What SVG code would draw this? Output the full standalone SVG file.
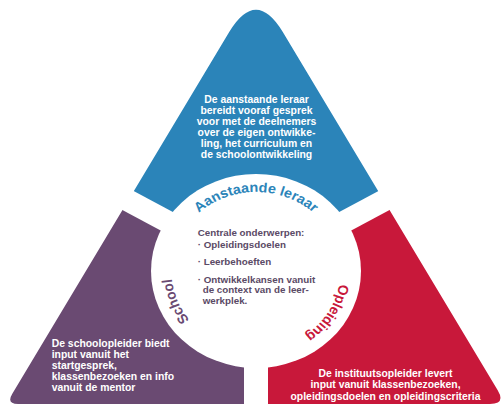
<svg xmlns="http://www.w3.org/2000/svg" width="502" height="407" viewBox="0 0 502 407">
  <style>
    .body { font-family: "Liberation Sans", Arial, sans-serif; font-weight: bold; }
    .wt { fill: #ffffff; font-size: 10.4px; }
    .ct { fill: #5b4a66; font-size: 9.8px; }
    .lbl { font-family: "Liberation Sans", Arial, sans-serif; font-weight: bold; font-size: 13.5px; }
    .gap { stroke: #ffffff; fill: none; }
  </style>
  <defs>
    <path id="tri" d="M 229.2 32.1 Q 256 -12.5 282.8 32.1 L 497.7 390.3 Q 505.9 404 489.9 404 L 18.1 404 Q 6.1 404 12.3 393.7 Z"/>
    <clipPath id="clip-top"><polygon points="256,269 -20,121.3 -20,-20 532,-20 532,121.3"/></clipPath>
    <clipPath id="clip-left"><polygon points="256,269 -20,121.3 -20,420 256,420"/></clipPath>
    <clipPath id="clip-right"><polygon points="256,269 532,121.3 532,420 256,420"/></clipPath>
    <path id="arc-top" d="M -74.24 -27.02 A 79 79 0 0 1 74.24 -27.02"/>
    <path id="arc-right" d="M 62.25 -48.64 A 79 79 0 0 1 -16.43 77.27"/>
    <path id="arc-left" d="M 2.76 78.95 A 79 79 0 0 1 -52.86 -58.71"/>
  </defs>

  <g id="sector-aanstaande-leraar">
    <use href="#tri" fill="#2b84b9" clip-path="url(#clip-top)"/>
  </g>
  <g id="sector-school">
    <use href="#tri" fill="#6a4a72" clip-path="url(#clip-left)"/>
  </g>
  <g id="sector-opleiding">
    <use href="#tri" fill="#c8183a" clip-path="url(#clip-right)"/>
  </g>

  <g id="connectors">
    <line class="gap" x1="256" y1="269" x2="-20" y2="121.3" stroke-width="22"/>
    <line class="gap" x1="256" y1="269" x2="532" y2="121.3" stroke-width="22"/>
    <line class="gap" x1="256" y1="269" x2="256" y2="420" stroke-width="24"/>
  </g>

  <g id="center">
    <ellipse cx="256" cy="271" rx="105" ry="97" fill="#ffffff"/>
    <text class="body ct" x="197.7" y="236.2">Centrale onderwerpen:</text>
    <text class="body ct" x="197.7" y="247.8">· Opleidingsdoelen</text>
    <text class="body ct" x="197.7" y="264.5">· Leerbehoeften</text>
    <text class="body ct" x="197.7" y="282.5">· Ontwikkelkansen vanuit</text>
    <text class="body ct" x="202.7" y="293.4">de context van de leer-</text>
    <text class="body ct" x="202.7" y="304.2">werkplek.</text>
  </g>

  <g id="labels" transform="translate(256 271) scale(1.07 1)">
    <text class="lbl" fill="#2b84b9"><textPath href="#arc-top" startOffset="50%" text-anchor="middle">Aanstaande leraar</textPath></text>
    <text class="lbl" fill="#c8183a"><textPath href="#arc-right" startOffset="50%" text-anchor="middle">Opleiding</textPath></text>
    <text class="lbl" fill="#6a4a72"><textPath href="#arc-left" startOffset="50%" text-anchor="middle">School</textPath></text>
  </g>

  <g id="text-aanstaande-leraar" class="body wt" text-anchor="middle">
    <text x="256.5" y="103">De aanstaande leraar</text>
    <text x="256.5" y="114">bereidt vooraf gesprek</text>
    <text x="256.5" y="125">voor met de deelnemers</text>
    <text x="256.5" y="136">over de eigen ontwikke-</text>
    <text x="256.5" y="147">ling, het curriculum en</text>
    <text x="256.5" y="158">de schoolontwikkeling</text>
  </g>

  <g id="text-school" class="body wt">
    <text x="51.7" y="347">De schoolopleider biedt</text>
    <text x="51.7" y="357.9">input vanuit het</text>
    <text x="51.7" y="368.8">startgesprek,</text>
    <text x="51.7" y="379.7">klassenbezoeken en info</text>
    <text x="51.7" y="390.6">vanuit de mentor</text>
  </g>

  <g id="text-opleiding" class="body wt" text-anchor="middle">
    <text x="385.5" y="377">De instituutsopleider levert</text>
    <text x="385.5" y="388.3">input vanuit klassenbezoeken,</text>
    <text x="385.5" y="399.5">opleidingsdoelen en opleidingscriteria</text>
  </g>
</svg>
